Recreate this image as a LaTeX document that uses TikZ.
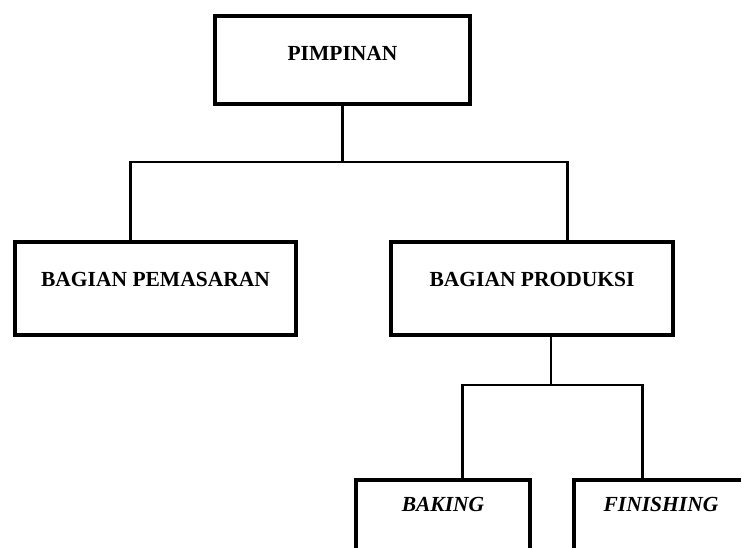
\documentclass[tikz,border=0pt]{standalone}
\usepackage{fontspec}
\setmainfont{Liberation Serif}
\usetikzlibrary{calc}

\newcommand{\hurufjudul}{\fontsize{21.5}{24}\selectfont\bfseries}

\tikzset{
  kotak/.style = {draw, line width = 3.8pt, anchor = north, inner sep = 0pt,
    text height = 44.5pt, text depth = 44pt, font = \hurufjudul},
  garis/.style = {line width = 2.4pt}
}

\begin{document}
\begin{tikzpicture}[x = 1pt, y = -1pt]
  \clip (0, 0) rectangle (741, 547);

  \node[kotak, minimum width = 255.5pt] (pimpinan) at (342.5, 13.75) {PIMPINAN};

  \node[kotak, minimum width = 281.5pt, text height = 44.5pt, text depth = 49pt]
  (pemasaran) at (155.5, 239.75) {BAGIAN PEMASARAN};
  \node[kotak, minimum width = 282.5pt, text height = 44.5pt, text depth = 49pt]
  (produksi) at (532, 239.75) {BAGIAN PRODUKSI};

  \node[kotak, minimum width = 174.5pt, text height = 32pt, text depth = 61pt]
  (baking) at (443, 477.75) {\itshape BAKING};
  \node[kotak, minimum width = 174.5pt, text height = 32pt, text depth = 61pt]
  (finishing) at (661, 477.75) {\itshape FINISHING};

  % pimpinan ke bagian
  \coordinate (ta) at ($(pemasaran.north west)!0.413!(pemasaran.north east)$);
  \coordinate (tb) at ($(produksi.north west)!0.624!(produksi.north east)$);
  \draw[garis] (pimpinan.south) -- ++(0, 56) coordinate (c1);
  \draw[garis] (ta) |- (c1) -| (tb);

  % produksi ke baking dan finishing
  \coordinate (pb) at ($(produksi.south west)!0.567!(produksi.south east)$);
  \coordinate (tc) at ($(baking.north west)!0.609!(baking.north east)$);
  \coordinate (td) at ($(finishing.north west)!0.397!(finishing.north east)$);
  \draw[garis] (pb) -- ++(0, 47.75) coordinate (c2);
  \draw[garis] (tc) |- (c2) -| (td);
\end{tikzpicture}
\end{document}
